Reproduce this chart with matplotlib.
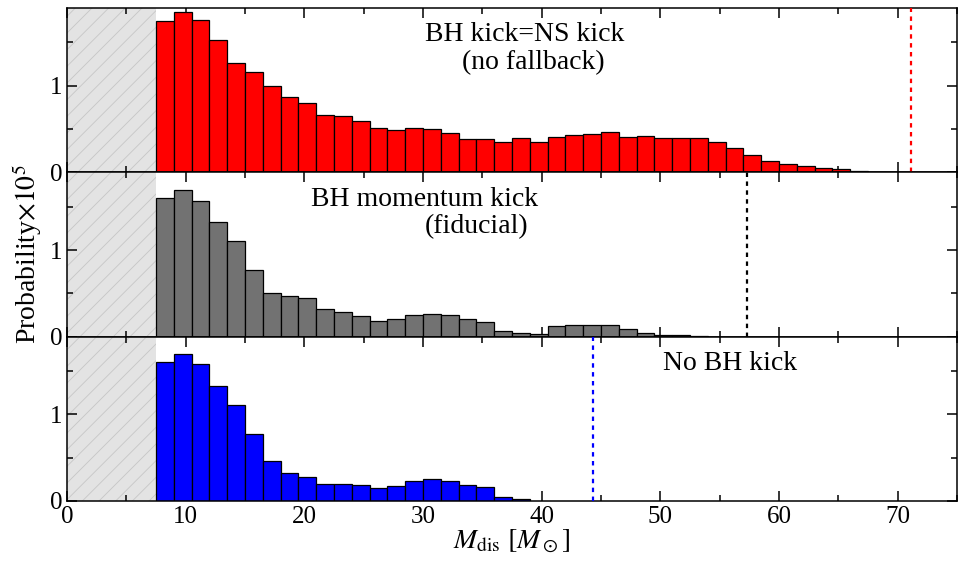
import numpy as np
import matplotlib
matplotlib.use("Agg")
import matplotlib.pyplot as plt

plt.rcParams['font.family'] = ['Liberation Serif', 'DejaVu Serif']
plt.rcParams['mathtext.fontset'] = 'stix'
plt.rcParams['hatch.linewidth'] = 0.6

# histogram bins: width 1.5 Msun starting at 7.5
bin_start = 7.5
bin_width = 1.5

# probability x 1e5 per bin
p_ns_kick = [1.748, 1.857, 1.764, 1.527, 1.267, 1.163, 0.996, 0.868, 0.802, 0.659,
             0.651, 0.593, 0.516, 0.492, 0.516, 0.504, 0.457, 0.380, 0.380, 0.355,
             0.391, 0.345, 0.403, 0.434, 0.438, 0.465, 0.407, 0.422, 0.395, 0.395,
             0.399, 0.349, 0.283, 0.202, 0.132, 0.097, 0.070, 0.050, 0.039, 0.019,
             0.008]
p_momentum = [1.602, 1.691, 1.571, 1.324, 1.100, 0.772, 0.506, 0.467, 0.440, 0.313,
              0.278, 0.239, 0.181, 0.197, 0.251, 0.263, 0.247, 0.205, 0.170, 0.064,
              0.039, 0.031, 0.116, 0.131, 0.135, 0.135, 0.089, 0.039, 0.023, 0.012,
              0.004]
p_no_kick = [1.610, 1.699, 1.579, 1.328, 1.108, 0.772, 0.459, 0.324, 0.270, 0.193,
             0.189, 0.181, 0.147, 0.166, 0.228, 0.247, 0.232, 0.181, 0.158, 0.042,
             0.020]

# maximum mass (dashed lines)
m_max = [71.1, 57.3, 44.3]

panels = [
    (p_ns_kick, '#ff0000', 'red', ['BH kick=NS kick', '(no fallback)']),
    (p_momentum, '#727272', 'black', ['BH momentum kick', '(fiducial)']),
    (p_no_kick, '#0000ff', 'blue', ['No BH kick']),
]
# label positions (data x, axes y)
label_pos = [[(38.6, 0.84), (39.3, 0.67)],
             [(30.1, 0.835), (34.5, 0.67)],
             [(55.9, 0.836)]]

fig, axes = plt.subplots(3, 1, figsize=(9.61, 5.64), dpi=100, sharex=True)
fig.subplots_adjust(left=0.0697, right=0.9958, top=0.986, bottom=0.112, hspace=0)

for i, (ax, (vals, col, lcol, labels)) in enumerate(zip(axes, panels)):
    edges = bin_start + bin_width * np.arange(len(vals))
    # excluded region below 7.5 Msun
    ax.axvspan(0, bin_start, facecolor='#e3e3e3', edgecolor='#c6c6c6',
               hatch='//', linewidth=0, zorder=0)
    ax.bar(edges, vals, width=bin_width, align='edge', color=col,
           edgecolor='black', linewidth=0.9, zorder=2)
    ax.axvline(m_max[i], color=lcol, linestyle=(0, (2, 2)), linewidth=1.6, zorder=3)
    for txt, (xt, yt) in zip(labels, label_pos[i]):
        ax.text(xt, yt, txt, transform=ax.get_xaxis_transform(),
                ha='center', va='center', fontsize=20)
    ax.set_xlim(0, 75)
    ax.set_ylim(0, 1.9)
    ax.set_yticks([0, 1])
    ax.set_yticks([0.5, 1.5], minor=True)
    ax.set_xticks(np.arange(0, 80, 10))
    ax.set_xticks(np.arange(5, 80, 10), minor=True)
    ax.tick_params(which='both', direction='in', top=True, right=True,
                   labelsize=18, width=1.1)
    ax.tick_params(which='major', length=7.5)
    ax.tick_params(which='minor', length=4.5)
    for sp in ax.spines.values():
        sp.set_linewidth(1.1)

axes[1].set_ylabel(r'Probability$\times10^5$', fontsize=20, labelpad=4)
axes[2].set_xlabel(r'$M_{\rm dis}$ $[M_\odot]$', fontsize=20, labelpad=0)

fig.savefig('out.png', dpi=100)
